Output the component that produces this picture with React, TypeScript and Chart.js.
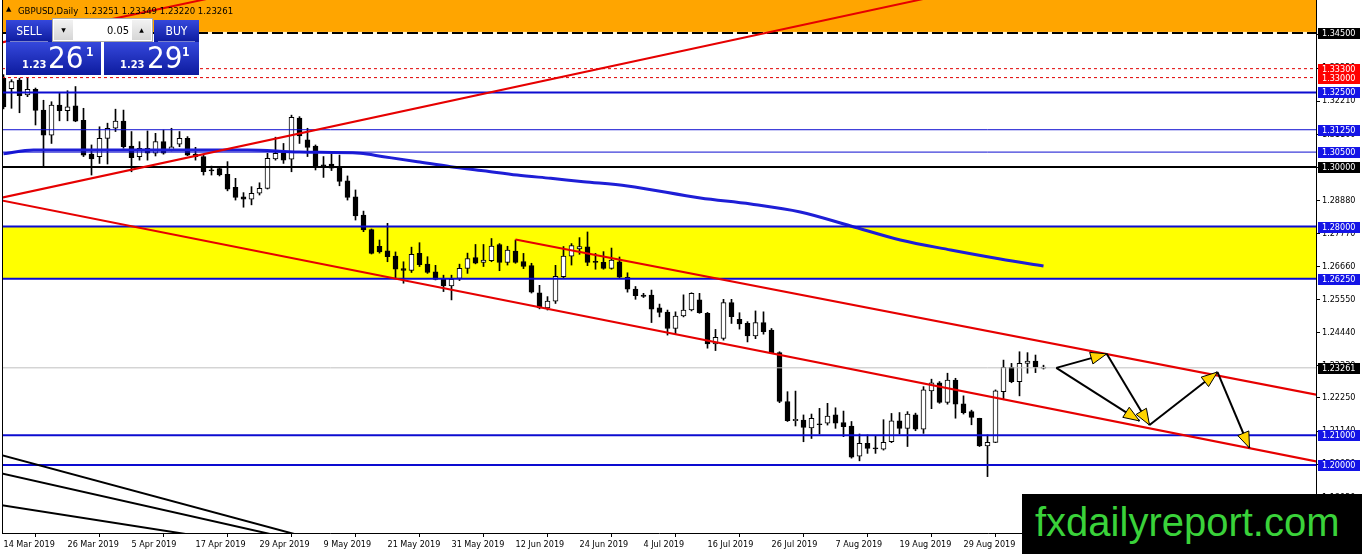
import React, { useEffect, useRef } from 'react';
import { Chart, registerables } from 'chart.js';

Chart.register(...registerables);

const FONT = "'DejaVu Sans Condensed', 'Liberation Sans Narrow', 'Liberation Sans', Arial, sans-serif";

// --- data (GBPUSD daily, bar 0 = 14 Mar 2019) ---
const DATE_LABELS = [
  '14 Mar 2019', '26 Mar 2019', '5 Apr 2019', '17 Apr 2019', '29 Apr 2019', '9 May 2019',
  '21 May 2019', '31 May 2019', '12 Jun 2019', '24 Jun 2019', '4 Jul 2019', '16 Jul 2019',
  '26 Jul 2019', '7 Aug 2019', '19 Aug 2019', '29 Aug 2019', '10 Sep 2019',
];
const DATE_TICK_BARS = [0, 8, 16, 24, 32, 40, 48, 56, 64, 72, 80, 88, 96, 104, 112, 120, 128];

const OPEN = [
  1.3298, 1.3263, 1.3292, 1.3242, 1.3261, 1.3191, 1.3107, 1.3208, 1.3189, 1.3205,
  1.3157, 1.3043, 1.3035, 1.3096, 1.3130, 1.3154, 1.3070, 1.3035, 1.3063, 1.3046,
  1.3085, 1.3057, 1.3077, 1.3096, 1.3043, 1.3035, 1.2990, 1.2995, 1.2975, 1.2932,
  1.2900, 1.2892, 1.2912, 1.2928, 1.3027, 1.3046, 1.3026, 1.3164, 1.3091, 1.3070,
  1.3007, 1.3010, 1.3001, 1.2954, 1.2900, 1.2839, 1.2790, 1.2734, 1.2719, 1.2701,
  1.2659, 1.2653, 1.2710, 1.2674, 1.2648, 1.2626, 1.2601, 1.2626, 1.2660, 1.2696,
  1.2680, 1.2686, 1.2740, 1.2680, 1.2718, 1.2683, 1.2669, 1.2578, 1.2527, 1.2550,
  1.2632, 1.2701, 1.2725, 1.2732, 1.2682, 1.2680, 1.2660, 1.2682, 1.2630, 1.2590,
  1.2570, 1.2570, 1.2527, 1.2513, 1.2458, 1.2500, 1.2520, 1.2554, 1.2509, 1.2406,
  1.2425, 1.2545, 1.2489, 1.2475, 1.2433, 1.2478, 1.2453, 1.2377, 1.2213, 1.2149,
  1.2151, 1.2124, 1.2138, 1.2140, 1.2168, 1.2142, 1.2131, 1.2030, 1.2073, 1.2057,
  1.2053, 1.2078, 1.2148, 1.2123, 1.2168, 1.2120, 1.2249, 1.2276, 1.2210, 1.2285,
  1.2205, 1.2179, 1.2157, 1.2064, 1.2076, 1.2246, 1.2328, 1.2280, 1.2341, 1.2349,
  1.23251,
];
const HIGH = [
  1.3310, 1.3293, 1.3298, 1.3298, 1.3265, 1.3224, 1.3219, 1.3247, 1.3256, 1.3270,
  1.3197, 1.3074, 1.3135, 1.3147, 1.3194, 1.3191, 1.3119, 1.3085, 1.3121, 1.3113,
  1.3124, 1.3130, 1.3119, 1.3102, 1.3066, 1.3043, 1.3003, 1.2998, 1.3018, 1.2962,
  1.2914, 1.2934, 1.2947, 1.3046, 1.3100, 1.3079, 1.3174, 1.3169, 1.3130, 1.3074,
  1.3035, 1.3043, 1.3040, 1.2970, 1.2923, 1.2852, 1.2792, 1.2755, 1.2811, 1.2715,
  1.2682, 1.2731, 1.2746, 1.2699, 1.2670, 1.2637, 1.2637, 1.2674, 1.2711, 1.2740,
  1.2740, 1.2760, 1.2743, 1.2734, 1.2755, 1.2710, 1.2677, 1.2603, 1.2565, 1.2670,
  1.2733, 1.2743, 1.2763, 1.2782, 1.2710, 1.2716, 1.2728, 1.2698, 1.2645, 1.2599,
  1.2576, 1.2587, 1.2540, 1.2520, 1.2514, 1.2571, 1.2578, 1.2576, 1.2512, 1.2455,
  1.2556, 1.2556, 1.2511, 1.2481, 1.2517, 1.2514, 1.2458, 1.2380, 1.2246, 1.2248,
  1.2168, 1.2171, 1.2190, 1.2207, 1.2192, 1.2181, 1.2146, 1.2104, 1.2101, 1.2097,
  1.2152, 1.2173, 1.2176, 1.2179, 1.2174, 1.2263, 1.2288, 1.2280, 1.2308, 1.2291,
  1.2232, 1.2184, 1.2157, 1.2101, 1.2252, 1.2352, 1.2341, 1.2380, 1.2377, 1.2369,
  1.23349,
];
const LOW = [
  1.3195, 1.3197, 1.3182, 1.3236, 1.3141, 1.3001, 1.3079, 1.3155, 1.3155, 1.3152,
  1.3035, 1.2973, 1.3012, 1.3010, 1.3119, 1.3063, 1.2984, 1.3023, 1.3023, 1.3037,
  1.3043, 1.3054, 1.3068, 1.3038, 1.3023, 1.2973, 1.2973, 1.2970, 1.2920, 1.2889,
  1.2865, 1.2873, 1.2906, 1.2926, 1.3023, 1.3012, 1.2984, 1.3079, 1.3035, 1.2990,
  1.2965, 1.2988, 1.2937, 1.2889, 1.2822, 1.2783, 1.2708, 1.2711, 1.2682, 1.2627,
  1.2610, 1.2646, 1.2666, 1.2643, 1.2621, 1.2582, 1.2554, 1.2619, 1.2643, 1.2675,
  1.2666, 1.2682, 1.2652, 1.2671, 1.2677, 1.2659, 1.2577, 1.2524, 1.2520, 1.2542,
  1.2628, 1.2671, 1.2707, 1.2669, 1.2657, 1.2657, 1.2657, 1.2625, 1.2580, 1.2556,
  1.2562, 1.2478, 1.2497, 1.2436, 1.2440, 1.2497, 1.2517, 1.2509, 1.2392, 1.2384,
  1.2419, 1.2475, 1.2456, 1.2413, 1.2424, 1.2439, 1.2375, 1.2209, 1.2146, 1.2131,
  1.2078, 1.2089, 1.2104, 1.2134, 1.2123, 1.2095, 1.2023, 1.2014, 1.2039, 1.2039,
  1.2050, 1.2075, 1.2104, 1.2062, 1.2115, 1.2106, 1.2189, 1.2207, 1.2204, 1.2157,
  1.2171, 1.2135, 1.2062, 1.1961, 1.2075, 1.2219, 1.2276, 1.2232, 1.2308, 1.2310,
  1.23220,
];
const CLOSE = [
  1.3202, 1.3287, 1.3239, 1.3261, 1.3190, 1.3107, 1.3208, 1.3189, 1.3202, 1.3154,
  1.3040, 1.3027, 1.3096, 1.3130, 1.3154, 1.3068, 1.3031, 1.3063, 1.3046, 1.3085,
  1.3046, 1.3068, 1.3096, 1.3040, 1.3035, 1.2984, 1.2987, 1.2973, 1.2926, 1.2898,
  1.2892, 1.2912, 1.2928, 1.3029, 1.3046, 1.3023, 1.3167, 1.3104, 1.3066, 1.3001,
  1.3001, 1.2996, 1.2952, 1.2898, 1.2836, 1.2789, 1.2710, 1.2715, 1.2699, 1.2657,
  1.2653, 1.2707, 1.2672, 1.2646, 1.2623, 1.2601, 1.2623, 1.2660, 1.2693, 1.2677,
  1.2688, 1.2735, 1.2680, 1.2721, 1.2680, 1.2666, 1.2580, 1.2527, 1.2550, 1.2633,
  1.2701, 1.2736, 1.2733, 1.2680, 1.2680, 1.2660, 1.2688, 1.2630, 1.2590, 1.2568,
  1.2566, 1.2523, 1.2512, 1.2458, 1.2500, 1.2520, 1.2576, 1.2511, 1.2406, 1.2428,
  1.2545, 1.2498, 1.2473, 1.2433, 1.2478, 1.2447, 1.2377, 1.2213, 1.2149, 1.2153,
  1.2126, 1.2157, 1.2135, 1.2164, 1.2140, 1.2129, 1.2026, 1.2073, 1.2056, 1.2054,
  1.2076, 1.2148, 1.2123, 1.2171, 1.2120, 1.2252, 1.2276, 1.2210, 1.2285, 1.2204,
  1.2176, 1.2160, 1.2064, 1.2076, 1.2249, 1.2328, 1.2280, 1.2341, 1.2349, 1.2328,
  1.23261,
];

// moving average read at a few bars
const MA_BARS = [0, 3.75, 30.5, 37, 44.6, 47.5, 51.75, 55.9, 60, 64.2, 68.4, 72.5, 78, 87.1, 93.4, 99.6, 105.9, 112.1, 118.4, 124.6, 130];
const MA_VALUES = [1.3044, 1.3057, 1.3057, 1.3050, 1.3046, 1.30346, 1.30178, 1.3001, 1.29876, 1.29732, 1.2962, 1.29507, 1.29362, 1.2896, 1.28758, 1.2849, 1.2802, 1.2755, 1.27215, 1.26913, 1.26678];

const PRICE_TICKS = [1.3443, 1.3332, 1.3221, 1.311, 1.2999, 1.2888, 1.2777, 1.2666, 1.2555, 1.2444, 1.2333, 1.2225, 1.2114, 1.2003, 1.1892];

const LEVEL_PRICES = [1.345, 1.333, 1.33, 1.325, 1.3125, 1.305, 1.3, 1.28, 1.2625, 1.21, 1.2];
const LEVEL_KINDS = ['zoneEdge', 'redDash', 'redDash', 'blueBold', 'blueThin', 'blueThin', 'blackBold', 'blueBold', 'blueBold', 'blueBold', 'blueBold'];
const BID_PRICE = 1.23261;

const ORANGE_ZONE = [1.345, 1.36];
const YELLOW_ZONE = [1.2625, 1.28];

// trend lines in bar / price
const TREND_FROM_BAR = [-0.4, -0.4, -0.4, 64, -0.4, -0.4, -0.4];
const TREND_FROM_PRICE = [1.2896, 1.3417, 1.2889, 1.2757, 1.2034, 1.1973, 1.1866];
const TREND_TO_BAR = [120, 27, 164.1, 164.1, 45, 40, 30];
const TREND_TO_PRICE = [1.3593, 1.3573, 1.2012, 1.2236, 1.1706, 1.1728, 1.1738];
const TREND_COLORS = ['#e60000', '#e60000', '#e60000', '#e60000', '#000', '#000', '#000'];

// forecast arrows
const ARROW_BARS = [131.6, 137.9, 142.0, 143.25, 151.75, 155.75];
const ARROW_PRICES = [1.2326, 1.2373, 1.2148, 1.2134, 1.2312, 1.2057];
const ARROW_FROM = [0, 0, 1, 3, 4];
const ARROW_TO = [1, 2, 3, 4, 5];

const X_MIN = -0.1875;
const X_MAX = 164.0625;
const Y_MIN = 1.17718;
const Y_MAX = 1.35604;

const LEVEL_STYLE: Record<string, { color: string; width: number; dash: number[]; tag: string }> = {
  zoneEdge: { color: '#000', width: 2, dash: [11, 4], tag: '#000' },
  redDash: { color: '#e00000', width: 1, dash: [3, 3], tag: '#ff0000' },
  blueBold: { color: '#0c0cd0', width: 2, dash: [], tag: '#1414e6' },
  blueThin: { color: '#0c0cd0', width: 1, dash: [], tag: '#1414e6' },
  blackBold: { color: '#000', width: 2, dash: [], tag: '#000' },
};

const mt4Objects = {
  id: 'mt4Objects',
  beforeDatasetsDraw(chart: any) {
    const { ctx, chartArea: a } = chart;
    const y = chart.scales.y;
    ctx.save();
    ctx.beginPath();
    ctx.rect(a.left, a.top, a.right - a.left, a.bottom - a.top);
    ctx.clip();
    const zone = (range: number[], color: string) => {
      const top = y.getPixelForValue(range[1]);
      const bottom = y.getPixelForValue(range[0]);
      ctx.fillStyle = color;
      ctx.fillRect(a.left, top, a.right - a.left, bottom - top);
    };
    zone(ORANGE_ZONE, '#ffa500');
    zone(YELLOW_ZONE, '#ffff00');
    // light line under the dashed zone edge
    const ey = y.getPixelForValue(ORANGE_ZONE[0]);
    ctx.fillStyle = '#fff6d8';
    ctx.fillRect(a.left, ey - 1, a.right - a.left, 2);
    ctx.restore();
  },
  afterDatasetsDraw(chart: any) {
    const { ctx } = chart;
    const xs = chart.scales.x;
    const ys = chart.scales.y;
    ctx.save();
    for (let i = 0; i < ARROW_FROM.length; i++) {
      const x0 = xs.getPixelForValue(ARROW_BARS[ARROW_FROM[i]]);
      const y0 = ys.getPixelForValue(ARROW_PRICES[ARROW_FROM[i]]);
      const x1 = xs.getPixelForValue(ARROW_BARS[ARROW_TO[i]]);
      const y1 = ys.getPixelForValue(ARROW_PRICES[ARROW_TO[i]]);
      const ang = Math.atan2(y1 - y0, x1 - x0);
      const len = 16;
      const half = 6;
      const bx = x1 - Math.cos(ang) * len;
      const by = y1 - Math.sin(ang) * len;
      ctx.beginPath();
      ctx.moveTo(x1, y1);
      ctx.lineTo(bx + Math.sin(ang) * half, by - Math.cos(ang) * half);
      ctx.lineTo(bx - Math.sin(ang) * half, by + Math.cos(ang) * half);
      ctx.closePath();
      ctx.fillStyle = '#ffd400';
      ctx.fill();
      ctx.strokeStyle = '#000';
      ctx.lineWidth = 1;
      ctx.stroke();
    }
    ctx.restore();
  },
  afterDraw(chart: any) {
    const { ctx, chartArea: a } = chart;
    const ys = chart.scales.y;
    ctx.save();
    ctx.fillStyle = '#000';
    ctx.fillRect(a.left, a.top, 1, a.bottom - a.top);
    ctx.font = `9px ${FONT}`;
    ctx.textBaseline = 'middle';
    ctx.textAlign = 'left';
    const tag = (value: number, bg: string) => {
      const py = Math.round(ys.getPixelForValue(value));
      ctx.fillStyle = bg;
      ctx.fillRect(a.right + 2, py - 5, 42, 11);
      ctx.fillStyle = '#fff';
      ctx.fillText(value.toFixed(5), a.right + 6, py + 0.5);
    };
    LEVEL_PRICES.forEach((p, i) => {
      if (p === 1.3) return;
      tag(p, LEVEL_STYLE[LEVEL_KINDS[i]].tag);
    });
    tag(1.3, '#000');
    tag(BID_PRICE, '#000');
    ctx.restore();
  },
};

export default function App() {
  const canvasRef = useRef<HTMLCanvasElement>(null);

  useEffect(() => {
    const ctx = canvasRef.current?.getContext('2d');
    if (!ctx) return;

    const bars = OPEN.map((_, i) => i);
    const font = { family: FONT, size: 9 };

    const levelSets = LEVEL_PRICES.map((p, i) => {
      const s = LEVEL_STYLE[LEVEL_KINDS[i]];
      return {
        type: 'line',
        data: [{ x: X_MIN, y: p }, { x: X_MAX, y: p }],
        borderColor: s.color,
        borderWidth: s.width,
        borderDash: s.dash,
        pointRadius: 0,
        order: 2,
      };
    });

    const trendSets = TREND_FROM_BAR.map((b, i) => ({
      type: 'line',
      data: [{ x: b, y: TREND_FROM_PRICE[i] }, { x: TREND_TO_BAR[i], y: TREND_TO_PRICE[i] }],
      borderColor: TREND_COLORS[i],
      borderWidth: 2,
      pointRadius: 0,
      order: 1,
    }));

    const arrowSets = ARROW_FROM.map((f, i) => ({
      type: 'line',
      data: [
        { x: ARROW_BARS[f], y: ARROW_PRICES[f] },
        { x: ARROW_BARS[ARROW_TO[i]], y: ARROW_PRICES[ARROW_TO[i]] },
      ],
      borderColor: '#000',
      borderWidth: 2,
      pointRadius: 0,
      order: 0,
    }));

    const chart = new Chart(ctx, {
      type: 'bar',
      data: {
        datasets: [
          {
            type: 'bar',
            data: bars.map((i) => ({ x: i, y: [LOW[i], HIGH[i]] })),
            backgroundColor: '#000',
            borderWidth: 0,
            barThickness: 1,
            grouped: false,
            order: 5,
          },
          {
            type: 'bar',
            data: bars.map((i) => ({ x: i, y: [OPEN[i], CLOSE[i]] })),
            backgroundColor: bars.map((i) => (CLOSE[i] > OPEN[i] ? '#fff' : '#000')),
            borderColor: '#000',
            borderWidth: 1,
            borderSkipped: false,
            barThickness: 5,
            minBarLength: 1,
            grouped: false,
            order: 4,
          },
          {
            type: 'line',
            data: MA_BARS.map((b, i) => ({ x: b, y: MA_VALUES[i] })),
            borderColor: '#1e1ed6',
            borderWidth: 3,
            pointRadius: 0,
            cubicInterpolationMode: 'monotone',
            order: 3,
          },
          ...levelSets,
          {
            type: 'line',
            data: [{ x: X_MIN, y: BID_PRICE }, { x: X_MAX, y: BID_PRICE }],
            borderColor: '#c0c0c0',
            borderWidth: 1,
            pointRadius: 0,
            order: 2,
          },
          ...trendSets,
          ...arrowSets,
        ] as any,
      },
      options: {
        responsive: false,
        animation: false,
        events: [],
        layout: { padding: { left: 2, top: 0, right: 0, bottom: 0 } },
        plugins: { legend: { display: false }, tooltip: { enabled: false } },
        scales: {
          x: {
            type: 'linear',
            min: X_MIN,
            max: X_MAX,
            offset: false,
            afterBuildTicks: (s: any) => {
              s.ticks = DATE_TICK_BARS.map((v) => ({ value: v }));
            },
            afterFit: (s: any) => {
              s.height = 21;
              s.paddingLeft = 0;
              s.paddingRight = 0;
            },
            ticks: {
              callback: (_v: any, i: number) => DATE_LABELS[i],
              align: 'start',
              maxRotation: 0,
              minRotation: 0,
              autoSkip: false,
              padding: 2,
              color: '#000',
              font,
            },
            grid: { drawOnChartArea: false, drawTicks: true, tickLength: 4, tickColor: '#000', color: '#000' },
            border: { display: true, color: '#000', width: 1 },
          },
          y: {
            type: 'linear',
            position: 'right',
            min: Y_MIN,
            max: Y_MAX,
            afterBuildTicks: (s: any) => {
              s.ticks = PRICE_TICKS.map((v) => ({ value: v }));
            },
            afterFit: (s: any) => {
              s.width = 46;
              s.paddingTop = 0;
              s.paddingBottom = 0;
            },
            ticks: {
              callback: (v: any) => Number(v).toFixed(5),
              autoSkip: false,
              padding: 2,
              color: '#000',
              font,
            },
            grid: { drawOnChartArea: false, drawTicks: true, tickLength: 4, tickColor: '#000', color: '#000' },
            border: { display: true, color: '#000', width: 1 },
          },
        },
      } as any,
      plugins: [mt4Objects],
    });

    return () => chart.destroy();
  }, []);

  const tile = 'linear-gradient(#3548dc, #0d1b9e)';
  const txt = { position: 'absolute' as const, color: '#fff', fontFamily: FONT, lineHeight: 1, whiteSpace: 'nowrap' as const };

  return (
    <div style={{ position: 'fixed', left: 0, top: 0, width: 1362, height: 554, background: '#fff', overflow: 'hidden' }}>
      <canvas ref={canvasRef} width={1362} height={554} style={{ display: 'block' }} />

      {/* symbol header */}
      <div style={{ position: 'absolute', left: 6, top: 6, fontSize: 7, fontFamily: 'DejaVu Sans', lineHeight: 1 }}>▲</div>
      <div style={{ position: 'absolute', left: 18, top: 5.5, fontSize: 9.5, fontFamily: FONT, lineHeight: 1, color: '#000', whiteSpace: 'nowrap' }}>
        GBPUSD,Daily&nbsp; 1.23251 1.23349 1.23220 1.23261
      </div>

      {/* one-click trading panel */}
      <div style={{ position: 'absolute', left: 6, top: 20, width: 46, height: 22, background: tile }}>
        <div style={{ ...txt, left: 0, width: 46, top: 5, fontSize: 12, textAlign: 'center' }}>SELL</div>
        <div style={{ position: 'absolute', left: 4, right: 4, bottom: 0, height: 1, background: 'rgba(255,255,255,0.45)' }} />
      </div>
      <div style={{ position: 'absolute', left: 52, top: 18, width: 99, height: 22, background: '#fff', border: '1px solid #a8a8a8' }}>
        <div style={{ position: 'absolute', left: 1, top: 1, width: 19, height: 20, background: 'linear-gradient(#f2f2f2, #d6d6d6)', fontSize: 6, textAlign: 'center', lineHeight: '20px', fontFamily: 'DejaVu Sans' }}>▼</div>
        <div style={{ position: 'absolute', left: 20, width: 56, top: 6, fontSize: 11, textAlign: 'right', fontFamily: FONT, lineHeight: 1, color: '#000' }}>0.05</div>
        <div style={{ position: 'absolute', left: 79, top: 1, width: 19, height: 20, background: 'linear-gradient(#f2f2f2, #d6d6d6)', fontSize: 6, textAlign: 'center', lineHeight: '20px', fontFamily: 'DejaVu Sans' }}>▲</div>
      </div>
      <div style={{ position: 'absolute', left: 154, top: 20, width: 45, height: 22, background: tile }}>
        <div style={{ ...txt, left: 0, width: 45, top: 5, fontSize: 12, textAlign: 'center' }}>BUY</div>
        <div style={{ position: 'absolute', left: 4, right: 4, bottom: 0, height: 1, background: 'rgba(255,255,255,0.45)' }} />
      </div>
      <div style={{ position: 'absolute', left: 6, top: 42, width: 95, height: 33, background: tile }}>
        <div style={{ ...txt, left: 16, top: 16.7, fontSize: 11, fontWeight: 'bold' }}>1.23</div>
        <div style={{ ...txt, left: 42, top: -0.2, fontSize: 31 }}>26</div>
        <div style={{ ...txt, left: 80, top: 3.8, fontSize: 12, fontWeight: 'bold' }}>1</div>
      </div>
      <div style={{ position: 'absolute', left: 104, top: 42, width: 95, height: 33, background: tile }}>
        <div style={{ ...txt, left: 16, top: 16.7, fontSize: 11, fontWeight: 'bold' }}>1.23</div>
        <div style={{ ...txt, left: 43, top: -0.2, fontSize: 31 }}>29</div>
        <div style={{ ...txt, left: 78, top: 3.8, fontSize: 12, fontWeight: 'bold' }}>1</div>
      </div>

      {/* watermark */}
      <div style={{ position: 'absolute', left: 1022, top: 494, width: 340, height: 60, background: '#000' }}>
        <div style={{ position: 'absolute', left: 13, top: 8, fontSize: 40, lineHeight: '40px', fontFamily: "'Liberation Sans', Arial, sans-serif", color: '#3ad23a', whiteSpace: 'nowrap' }}>
          fxdailyreport.com
        </div>
      </div>
    </div>
  );
}
